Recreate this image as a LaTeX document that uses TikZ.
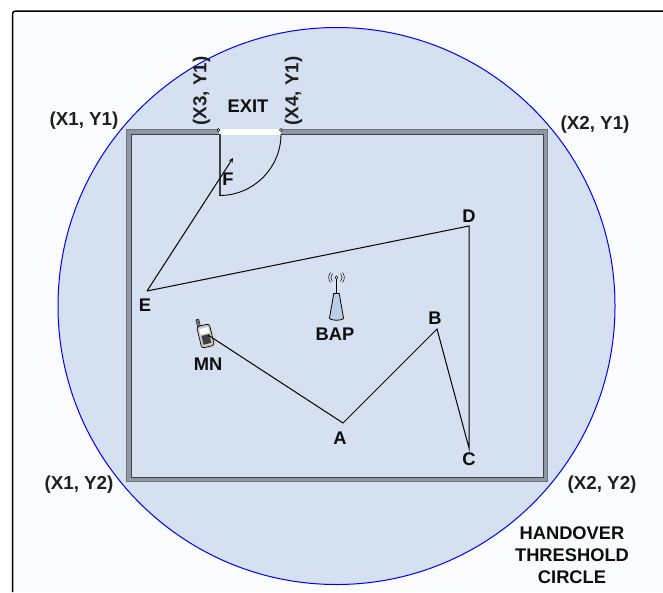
\documentclass[tikz,border=0pt]{standalone}
\usepackage{fontspec}
\setmainfont{Liberation Sans}
\usetikzlibrary{positioning}
\definecolor{panelbg}{HTML}{FBFCFF}
\definecolor{circlebg}{HTML}{D5E0F0}
\definecolor{wallgray}{HTML}{8C97A8}
\definecolor{towerblue}{HTML}{BCCDE6}
\tikzset{
  lbl/.style={font=\fontsize{18.3}{20}\selectfont\bfseries, inner sep=0pt, text=black!95},
  lblsm/.style={font=\fontsize{18.8}{20}\selectfont\bfseries, inner sep=0pt, text=black!88},
  track/.style={draw=black, line width=1pt},
  wall/.style={fill=wallgray, draw=black!55, line width=0.5pt},
  node distance=3pt
}
\begin{document}
\begin{tikzpicture}[x=1pt, y=-1pt, >=stealth]
	\useasboundingbox (0,0) rectangle (663,592);
	% panel
	\path[fill=panelbg] (12.5,592) -- (12.5,11) -- (663,11) -- (663,592) -- cycle;
	\draw[line width=1.5pt, rounded corners=3pt] (12.5,592) -- (12.5,11) -- (663,11);
	% threshold circle
	\coordinate (c0) at (336.5,306);
	\draw[blue, fill=circlebg, line width=1pt] (c0) circle (278.5);
	% room
	\path[wall, even odd rule] (126,129) rectangle (547.5,481.5) (131,134) rectangle (543,477);
	\draw[black!75, line width=1pt] (131,134) rectangle (543,477);
	% exit
	\fill[white] (218.5,128.5) rectangle (281,134.5);
	\draw[fill=white, line width=0.4pt] (218.5,130) circle (1.5) (281,130) circle (1.5);
	\draw[black!75, line width=2pt] (219.5,134) -- (219.5,195.5);
	\draw[black, line width=0.9pt] (219.5,195.5) arc[start angle=90, end angle=0, radius=61.5];
	% track points
	\coordinate (mn) at (208,335);
	\coordinate (a) at (343,423);
	\coordinate (b) at (437,329);
	\coordinate (c) at (469,448);
	\coordinate (d) at (469,226);
	\coordinate (e) at (147,291);
	\coordinate (f) at (233,158);
	% mobile node
	\begin{scope}[shift={(205.5,336)}, rotate=14]
		\fill[black!15] (3,1) ellipse (8 and 13);
		\draw[fill=black!55, line width=0.4pt] (-5.5,-18) rectangle (-2.5,-10);
		\draw[fill=black!20, line width=0.7pt, rounded corners=2.5pt] (-6.5,-11) rectangle (6.5,11);
		\fill[white] (-4.5,-8) rectangle (4.5,-2.5);
		\fill[black!75] (-4,-1) rectangle (4,8);
	\end{scope}
	\path[track] (mn) -- (a) -- (b) -- (c) -- (d) -- (e);
	\draw[track, ->] (e) -- (f);
	% access point
	\coordinate (bap) at (336.5,285);
	\fill[black!12] (340,316) ellipse (9 and 6);
	\draw[fill=towerblue, line width=0.8pt] (333.8,293.5) -- (339.2,293.5) -- (343.5,318) arc[start angle=0, end angle=180, x radius=7, y radius=2.2] -- cycle;
	\draw[line width=0.8pt] (bap) ++(0,-7.5) -- (336.5,293.5);
	\draw[line width=0.5pt, fill=white] (336.5,277.5) circle (1.6);
	\draw[line width=0.5pt] (332.5,273.5) arc[start angle=225, end angle=135, radius=5.6];
	\draw[line width=0.5pt] (340.5,273.5) arc[start angle=-45, end angle=45, radius=5.6];
	\draw[line width=0.5pt] (330.5,272.5) arc[start angle=220, end angle=140, radius=7.8];
	\draw[line width=0.5pt] (342.5,272.5) arc[start angle=-40, end angle=40, radius=7.8];
	% labels
	\node[lbl, below=8.5pt of a, xshift=-3pt] (la) {A};
	\node[lbl, above=4pt of b, xshift=-2pt] (lb) {B};
	\node[lbl, below=5pt of c] (lc) {C};
	\node[lbl, above=3pt of d] (ld) {D};
	\node[lbl, below=8pt of e, xshift=-2pt] (le) {E};
	\node[lbl] (lf) at (228,179) {F};
	\node[lbl] (lmn) at (208,364) {MN};
	\node[lbl] (lbap) at (335,334) {BAP};
	\node[lbl] (lexit) at (248,106) {EXIT};
	\node[lblsm] (x1y1) at (84,121) {(X1, Y1)};
	\node[lblsm] (x2y1) at (595,125) {(X2, Y1)};
	\node[lblsm] (x1y2) at (79,485) {(X1, Y2)};
	\node[lblsm] (x2y2) at (602,485) {(X2, Y2)};
	\node[lblsm, rotate=90] (x3y1) at (201.5,91) {(X3, Y1)};
	\node[lblsm, rotate=90] (x4y1) at (293.5,91) {(X4, Y1)};
	\node[lbl, align=center, font=\fontsize{18.3}{22}\selectfont\bfseries] (thr) at (572,555) {HANDOVER\\THRESHOLD\\CIRCLE};
\end{tikzpicture}
\end{document}
